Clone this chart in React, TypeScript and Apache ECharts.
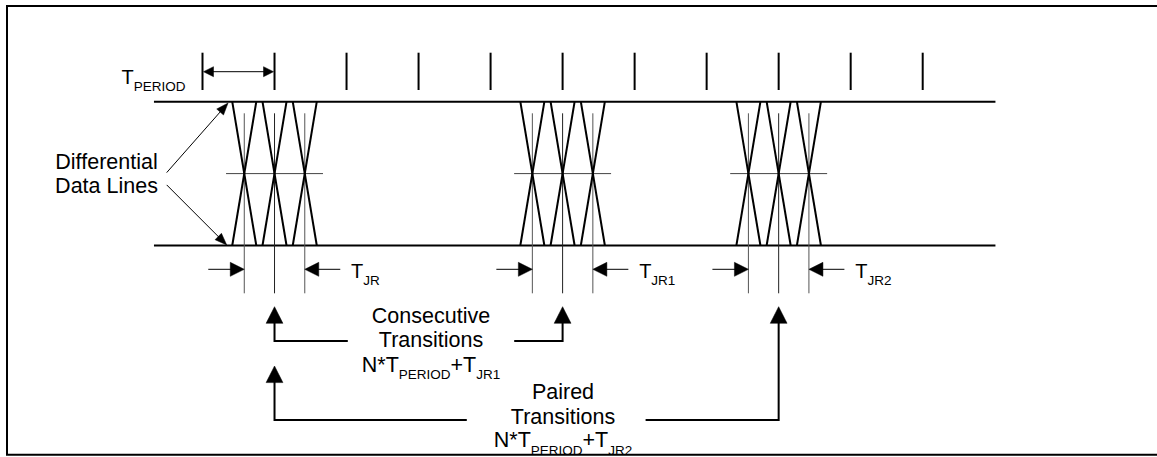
import React, { useEffect, useRef } from 'react';
import * as echarts from 'echarts';

// ---------------- data (time in clock periods, signal level 0 = low, 1 = high) ----------------
const clockTicks = [0, 1, 2, 3, 4, 5, 6, 7, 8, 9, 10];
const periodSpan = [0, 1];
const eyeCenters = [1, 5, 8];
const eyeSubscripts = ['JR', 'JR1', 'JR2'];
const transitionOffsets = [-0.42, 0, 0.42];
const edgeHalfWidth = 0.167;
const dataLineLevels = [1, 0];
const dataLineSpan = [-0.674, 11.01];
const crossingLevel = 0.5;
const crossingHalfSpan = 0.673;
const sideLabel = ['Differential', 'Data Lines'];
const consecutiveLabel = ['Consecutive', 'Transitions'];
const pairedLabel = ['Paired', 'Transitions'];
const consecutiveEyes = [0, 1];
const pairedEyes = [0, 2];

// ---------------- axis mapping / layout ----------------
const W = 1157;
const H = 457;
const PX0 = 202.5;
const PXU = 72.02;
const PY0 = 245.5;
const PYU = 143.8;
const X_MIN = -PX0 / PXU;
const X_MAX = (W - PX0) / PXU;
const Y_MIN = (PY0 - H) / PYU;
const Y_MAX = PY0 / PYU;

const FONT = '"Liberation Sans", Arial, Helvetica, sans-serif';
const BIG = 21.5;
const MID = 20;
const SUB = 13.5;
const SUB_DROP = 7.3;

let measureCtx: CanvasRenderingContext2D | null = null;
function tw(s: string, size: number): number {
  if (!measureCtx) measureCtx = document.createElement('canvas').getContext('2d');
  if (!measureCtx) return s.length * size * 0.55;
  measureCtx.font = `${size}px "Liberation Sans"`;
  return measureCtx.measureText(s).width;
}

function txt(s: string, x: number, baseline: number, size: number, align: string = 'left') {
  return {
    type: 'text',
    x,
    y: baseline - 0.3465 * size,
    silent: true,
    style: {
      text: s,
      fontSize: size,
      fontFamily: FONT,
      fill: '#000',
      align,
      verticalAlign: 'middle',
      textAlign: align,
      textVerticalAlign: 'middle',
    },
  };
}

type Part = { t: string; sub?: boolean };
function richLine(parts: Part[], x: number, baseline: number, size: number, align: 'left' | 'center') {
  const widths = parts.map((p) => tw(p.t, p.sub ? SUB : size));
  const total = widths.reduce((a, b) => a + b, 0);
  let cx = align === 'center' ? x - total / 2 : x;
  return parts.map((p, i) => {
    const el = txt(p.t, cx, p.sub ? baseline + SUB_DROP : baseline, p.sub ? SUB : size, 'left');
    cx += widths[i];
    return el;
  });
}

function ln(x1: number, y1: number, x2: number, y2: number, w: number, color = '#000') {
  return { type: 'line', silent: true, shape: { x1, y1, x2, y2 }, style: { stroke: color, lineWidth: w } };
}

function pl(points: number[][], w: number) {
  return { type: 'polyline', silent: true, shape: { points }, style: { stroke: '#000', lineWidth: w, fill: 'none' } };
}

function head(tx: number, ty: number, dx: number, dy: number, len: number, half: number) {
  const n = Math.hypot(dx, dy);
  const ux = dx / n;
  const uy = dy / n;
  const bx = tx - ux * len;
  const by = ty - uy * len;
  return {
    type: 'polygon',
    silent: true,
    shape: { points: [[tx, ty], [bx - uy * half, by + ux * half], [bx + uy * half, by - ux * half]] },
    style: { fill: '#000', stroke: '#000', lineWidth: 0.5 },
  };
}

function buildOption() {
  const series: any[] = [];

  // clock ticks
  series.push({
    type: 'custom',
    name: 'clock',
    data: clockTicks.map((t) => [t, 1]),
    renderItem: (_p: any, api: any) => {
      const [x, y] = api.coord([api.value(0), 1]);
      return { type: 'group', children: [ln(x, y - 49, x, y - 11.7, 2)] };
    },
  });

  // period arrow + label
  series.push({
    type: 'custom',
    name: 'period',
    data: [[periodSpan[0], periodSpan[1]]],
    renderItem: (_p: any, api: any) => {
      const [x0, yT] = api.coord([api.value(0), 1]);
      const [x1] = api.coord([api.value(1), 1]);
      const y = yT - 30;
      const a = x0 + 1;
      const b = x1 - 1;
      return {
        type: 'group',
        children: [
          ln(a + 9, y, b - 9, y, 1),
          head(a, y, -1, 0, 10, 5),
          head(b, y, 1, 0, 10, 5),
          ...richLine([{ t: 'T' }, { t: 'PERIOD', sub: true }], x0 - 81, yT - 17.7, MID, 'left'),
        ],
      };
    },
  });

  // differential data lines
  series.push({
    type: 'custom',
    name: 'dataLines',
    data: dataLineLevels.map((l) => [dataLineSpan[0], l]),
    renderItem: (_p: any, api: any) => {
      const l = api.value(1);
      const p0 = api.coord([dataLineSpan[0], l]);
      const p1 = api.coord([dataLineSpan[1], l]);
      return { type: 'group', children: [ln(p0[0], p0[1], p1[0], p1[1], 2)] };
    },
  });

  // eyes
  series.push({
    type: 'custom',
    name: 'eyes',
    data: eyeCenters.map((c, i) => [c, i]),
    renderItem: (params: any, api: any) => {
      const i = params.dataIndex;
      const c = eyeCenters[i];
      const children: any[] = [];
      const yTop = api.coord([c, 1])[1];
      const yBot = api.coord([c, 0])[1];
      const ml = api.coord([c - crossingHalfSpan, crossingLevel]);
      const mr = api.coord([c + crossingHalfSpan, crossingLevel]);
      children.push(ln(ml[0], ml[1], mr[0], mr[1], 1, '#444'));
      transitionOffsets.forEach((o, k) => {
        const xc = c + o;
        const xv = api.coord([xc, 0])[0];
        children.push(ln(xv, yTop + 11.6, xv, yBot + 47.8, 1, k === 1 ? '#222' : '#555'));
      });
      transitionOffsets.forEach((o) => {
        const xc = c + o;
        const a = api.coord([xc - edgeHalfWidth, 1]);
        const b = api.coord([xc + edgeHalfWidth, 0]);
        const d = api.coord([xc - edgeHalfWidth, 0]);
        const e = api.coord([xc + edgeHalfWidth, 1]);
        children.push(ln(a[0], a[1], b[0], b[1], 2), ln(d[0], d[1], e[0], e[1], 2));
      });
      const xL = api.coord([c + transitionOffsets[0], 0])[0];
      const xR = api.coord([c + transitionOffsets[2], 0])[0];
      const ya = yBot + 23.8;
      children.push(ln(xL - 36, ya, xL - 12, ya, 1), head(xL, ya, 1, 0, 14, 7));
      children.push(ln(xR + 12, ya, xR + 35.5, ya, 1), head(xR, ya, -1, 0, 14, 7));
      children.push(...richLine([{ t: 'T' }, { t: eyeSubscripts[i], sub: true }], xR + 46.3, yBot + 32.8, MID, 'left'));
      return { type: 'group', children };
    },
  });

  // side label
  series.push({
    type: 'custom',
    name: 'side',
    data: [[eyeCenters[0] + transitionOffsets[0] - edgeHalfWidth, crossingLevel]],
    renderItem: (_p: any, api: any) => {
      const xe = api.value(0);
      const top = api.coord([xe, 1]);
      const bot = api.coord([xe, 0]);
      const mid = api.coord([xe, crossingLevel]);
      const t1 = [top[0] - 4.2, top[1] + 1.3];
      const t2 = [bot[0] - 5.5, bot[1] - 0.5];
      const s1 = [166.7, mid[1] - 1];
      const s2 = [166.7, mid[1] + 11.3];
      return {
        type: 'group',
        children: [
          txt(sideLabel[0], 106.5, mid[1] - 4.25, BIG, 'center'),
          txt(sideLabel[1], 106.5, mid[1] + 20.25, BIG, 'center'),
          ln(s1[0], s1[1], t1[0] - (t1[0] - s1[0]) * 0.12, t1[1] - (t1[1] - s1[1]) * 0.12, 1),
          head(t1[0], t1[1], t1[0] - s1[0], t1[1] - s1[1], 12, 4.5),
          ln(s2[0], s2[1], t2[0] - (t2[0] - s2[0]) * 0.12, t2[1] - (t2[1] - s2[1]) * 0.12, 1),
          head(t2[0], t2[1], t2[0] - s2[0], t2[1] - s2[1], 12, 4.5),
        ],
      };
    },
  });

  // consecutive transitions
  series.push({
    type: 'custom',
    name: 'consecutive',
    data: [[eyeCenters[consecutiveEyes[0]], eyeCenters[consecutiveEyes[1]]]],
    renderItem: (_p: any, api: any) => {
      const xa = api.coord([api.value(0), 0])[0];
      const xb = api.coord([api.value(1), 0])[0];
      const yBot = api.coord([api.value(0), 0])[1];
      const tip = yBot + 61.2;
      const ly = yBot + 95.5;
      const cx = 431;
      return {
        type: 'group',
        children: [
          pl([[xa, tip + 14], [xa, ly], [cx - 83.2, ly]], 2),
          head(xa, tip, 0, -1, 16.6, 8.4),
          pl([[cx + 83.2, ly], [xb, ly], [xb, tip + 14]], 2),
          head(xb, tip, 0, -1, 16.6, 8.4),
          txt(consecutiveLabel[0], cx, yBot + 77.8, BIG, 'center'),
          txt(consecutiveLabel[1], cx, yBot + 101.8, BIG, 'center'),
          ...richLine([{ t: 'N*T' }, { t: 'PERIOD', sub: true }, { t: '+T' }, { t: 'JR1', sub: true }], cx, yBot + 126.8, BIG, 'center'),
        ],
      };
    },
  });

  // paired transitions
  series.push({
    type: 'custom',
    name: 'paired',
    data: [[eyeCenters[pairedEyes[0]], eyeCenters[pairedEyes[1]]]],
    renderItem: (_p: any, api: any) => {
      const xa = api.coord([api.value(0), 0])[0];
      const xb = api.coord([api.value(1), 0])[0];
      const yBot = api.coord([api.value(0), 0])[1];
      const tipL = yBot + 120.5;
      const tipR = yBot + 61.2;
      const ly = yBot + 174.5;
      const cx = 563;
      return {
        type: 'group',
        children: [
          pl([[xa, tipL + 14], [xa, ly], [466.8, ly]], 2),
          head(xa, tipL, 0, -1, 16.6, 8.4),
          pl([[645.6, ly], [xb, ly], [xb, tipR + 14]], 2),
          head(xb, tipR, 0, -1, 16.6, 8.4),
          txt(pairedLabel[0], cx, yBot + 153.5, BIG, 'center'),
          txt(pairedLabel[1], cx, yBot + 178.5, BIG, 'center'),
          ...richLine([{ t: 'N*T' }, { t: 'PERIOD', sub: true }, { t: '+T' }, { t: 'JR2', sub: true }], cx, yBot + 202, BIG, 'center'),
        ],
      };
    },
  });

  return {
    animation: false,
    backgroundColor: '#fff',
    grid: { left: 0, right: 0, top: 0, bottom: 0, containLabel: false },
    xAxis: { type: 'value', min: X_MIN, max: X_MAX, show: false },
    yAxis: { type: 'value', min: Y_MIN, max: Y_MAX, show: false },
    graphic: [
      {
        type: 'rect',
        silent: true,
        shape: { x: 7, y: 6, width: 1153, height: 448.7 },
        style: { fill: 'none', stroke: '#000', lineWidth: 2 },
        z: 100,
      },
    ],
    series,
  };
}

export default function App() {
  const ref = useRef<HTMLDivElement>(null);
  useEffect(() => {
    if (!ref.current) return;
    const chart = echarts.init(ref.current, null, { renderer: 'svg', width: W, height: H });
    chart.setOption(buildOption() as any);
    return () => chart.dispose();
  }, []);
  return (
    <div
      ref={ref}
      style={{ position: 'fixed', left: 0, top: 0, width: W, height: H, background: '#fff' }}
    />
  );
}
